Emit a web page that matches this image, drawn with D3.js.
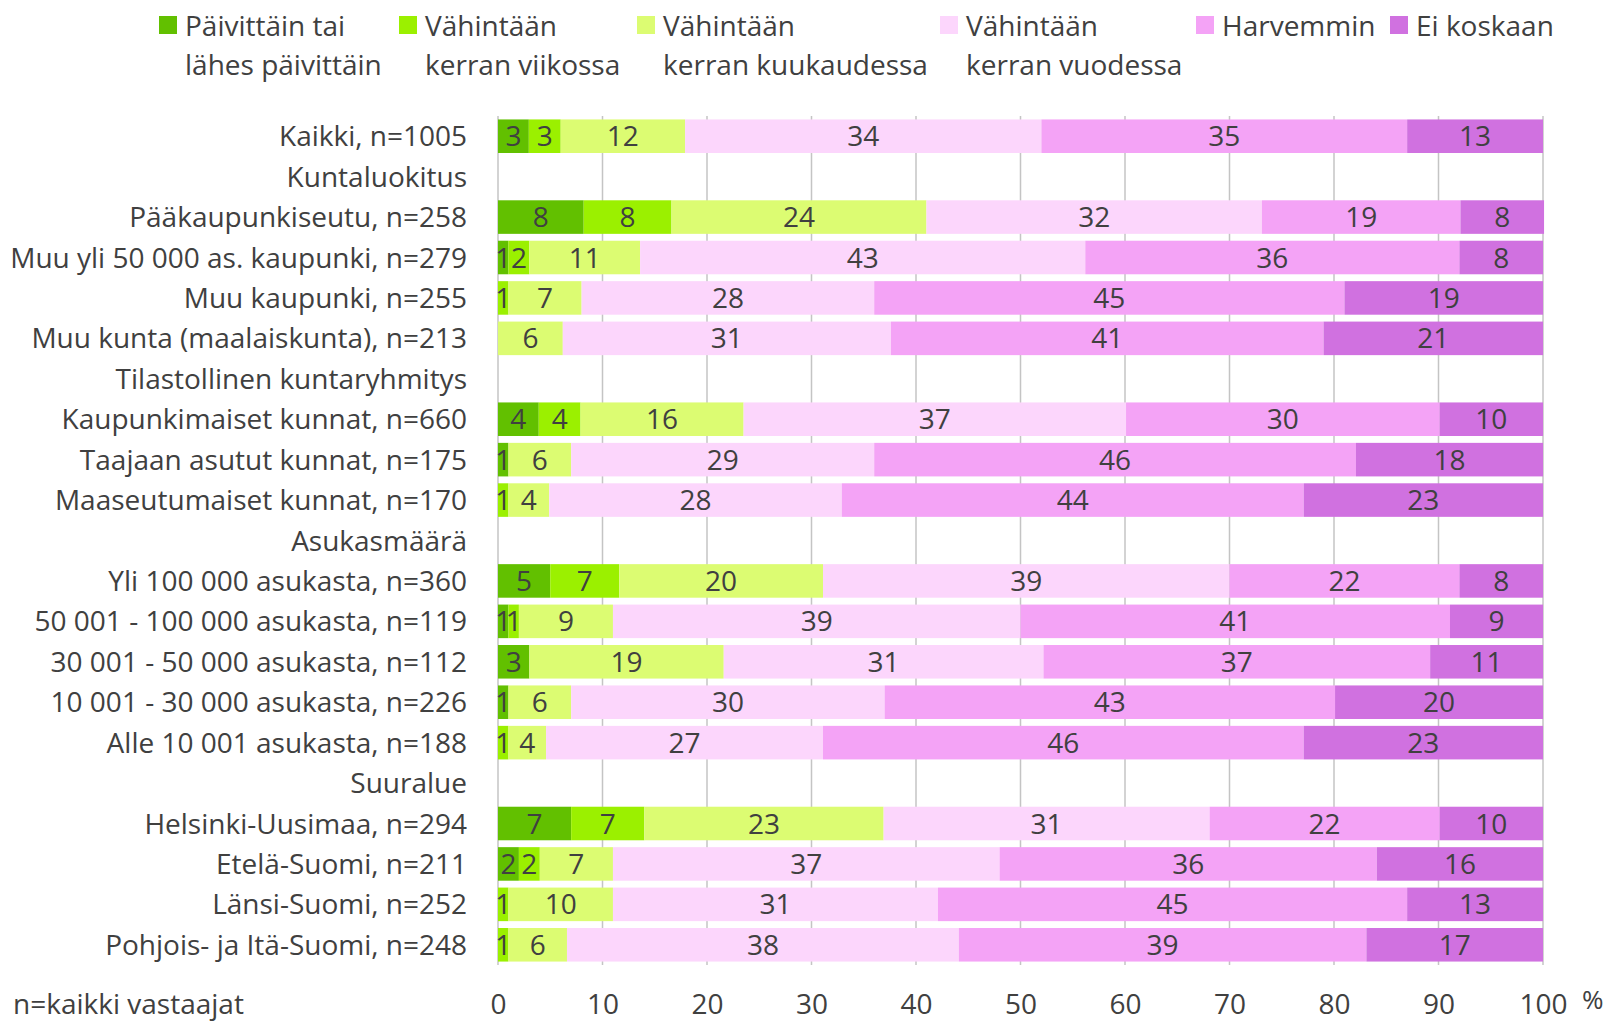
<!DOCTYPE html>
<html>
<head>
<meta charset="utf-8">
<script src="https://cdn.jsdelivr.net/npm/d3@7"></script>
<style>
	body { margin: 0; background: #fff; }
	svg text { font-family: 'Open Sans', 'Noto Sans', sans-serif; fill: #404040; }
</style>
</head>
<body>
<svg id="chart" width="1610" height="1022"></svg>
<script>
const categories = [
	'Kaikki, n=1005',
	'Kuntaluokitus',
	'Pääkaupunkiseutu, n=258',
	'Muu yli 50 000 as. kaupunki, n=279',
	'Muu kaupunki, n=255',
	'Muu kunta (maalaiskunta), n=213',
	'Tilastollinen kuntaryhmitys',
	'Kaupunkimaiset kunnat, n=660',
	'Taajaan asutut kunnat, n=175',
	'Maaseutumaiset kunnat, n=170',
	'Asukasmäärä',
	'Yli 100 000 asukasta, n=360',
	'50 001 - 100 000 asukasta, n=119',
	'30 001 - 50 000 asukasta, n=112',
	'10 001 - 30 000 asukasta, n=226',
	'Alle 10 001 asukasta, n=188',
	'Suuralue',
	'Helsinki-Uusimaa, n=294',
	'Etelä-Suomi, n=211',
	'Länsi-Suomi, n=252',
	'Pohjois- ja Itä-Suomi, n=248'
]

// null = group header row, no bar
const daily =   [2.95, null, 8.2, 1.0, 0, 0, null, 3.9, 1.0, 0, null, 5.0, 1.0, 3.0, 1.0, 0, null, 7.0, 2.0, 0, 0]
const weekly =  [3.05, null, 8.4, 2.0, 1.0, 0, null, 4.0, 0, 1.0, null, 6.6, 1.0, 0, 0, 1.0, null, 7.0, 2.0, 1.0, 1.0]
const monthly = [11.9, null, 24.4, 10.6, 7.0, 6.2, null, 15.6, 6.0, 3.9, null, 19.5, 9.0, 18.6, 6.0, 3.6, null, 22.9, 7.0, 10.0, 5.6]
const yearly =  [34.1, null, 32.1, 42.6, 28.0, 31.4, null, 36.6, 29.0, 28.0, null, 38.9, 39.0, 30.6, 30.0, 26.5, null, 31.2, 37.0, 31.1, 37.5]
const rarely =  [35.0, null, 19.0, 35.8, 45.0, 41.4, null, 30.0, 46.1, 44.2, null, 22.0, 41.1, 37.0, 43.1, 46.0, null, 22.0, 36.1, 44.9, 39.0]
const never =   [13.0, null, 8.0, 8.0, 19.0, 21.0, null, 9.9, 17.9, 22.9, null, 8.0, 8.9, 10.8, 19.9, 22.9, null, 9.9, 15.9, 13.0, 16.9]

const seriesNames = [
	['Päivittäin tai', 'lähes päivittäin'],
	['Vähintään', 'kerran viikossa'],
	['Vähintään', 'kerran kuukaudessa'],
	['Vähintään', 'kerran vuodessa'],
	['Harvemmin'],
	['Ei koskaan']
]
const seriesValues = [daily, weekly, monthly, yearly, rarely, never]
const colors = ['#62c000', '#9bf000', '#dcfc72', '#fcd6fc', '#f4a3f6', '#d071e0']
const ticks = [0, 10, 20, 30, 40, 50, 60, 70, 80, 90, 100]

const fontSize = 28
const keys = seriesValues.map((s, i) => 'k' + i)

const rows = categories.map((c, r) => {
	const row = { label: c, header: seriesValues[0][r] === null }
	keys.forEach((k, i) => { row[k] = seriesValues[i][r] || 0 })
	return row
})

const svg = d3.select('#chart')

const x = d3.scaleLinear()
	.domain([0, 100])
	.range([498, 1543])

const y = d3.scaleBand()
	.domain(categories)
	.range([116, 965])
	.paddingInner(0.17)
	.paddingOuter(0.085)

// grid
svg.append('g')
	.selectAll('line')
	.data(ticks)
	.join('line')
		.attr('x1', (d) => x(d))
		.attr('x2', (d) => x(d))
		.attr('y1', 116)
		.attr('y2', 965)
		.attr('stroke', '#c4c4c4')
		.attr('stroke-width', 1.5)

const stacked = d3.stack().keys(keys)(rows.filter((r) => !r.header))

const layers = svg.append('g')
	.selectAll('g')
	.data(stacked)
	.join('g')
		.attr('fill', (d, i) => colors[i])

layers.selectAll('rect')
	.data((d) => d)
	.join('rect')
		.attr('x', (d) => x(d[0]))
		.attr('y', (d) => y(d.data.label))
		.attr('width', (d) => x(d[1]) - x(d[0]))
		.attr('height', y.bandwidth())

// segment labels
svg.append('g')
	.selectAll('g')
	.data(stacked)
	.join('g')
	.selectAll('text')
	.data((d) => d.filter((s) => s[1] - s[0] >= 0.5))
	.join('text')
		.attr('x', (d) => x((d[0] + d[1]) / 2))
		.attr('y', (d) => y(d.data.label) + y.bandwidth() / 2)
		.attr('dy', '0.36em')
		.attr('text-anchor', 'middle')
		.attr('font-size', fontSize)
		.text((d) => Math.round(d[1] - d[0]))

// category labels
svg.append('g')
	.selectAll('text')
	.data(categories)
	.join('text')
		.attr('x', 467)
		.attr('y', (d) => y(d) + y.bandwidth() / 2)
		.attr('dy', '0.36em')
		.attr('text-anchor', 'end')
		.attr('font-size', fontSize)
		.text((d) => d)

// x axis
const axis = svg.append('g')
	.attr('transform', 'translate(0,1014)')
	.call(d3.axisBottom(x).tickValues(ticks).tickSize(0).tickPadding(0))
axis.select('.domain').remove()
axis.selectAll('text')
	.attr('font-size', fontSize)
	.attr('dy', 0)
	.attr('fill', '#404040')

svg.append('text')
	.attr('x', 1582)
	.attr('y', 1009)
	.attr('font-size', fontSize - 2)
	.text('%')

svg.append('text')
	.attr('x', 13)
	.attr('y', 1014)
	.attr('font-size', fontSize)
	.text('n=kaikki vastaajat')

// legend
const legendX = [159, 399, 637, 940, 1196, 1390]
const legend = svg.append('g')
	.selectAll('g')
	.data(seriesNames)
	.join('g')
		.attr('transform', (d, i) => `translate(${legendX[i]},0)`)

legend.append('rect')
	.attr('y', 16)
	.attr('width', 18)
	.attr('height', 18)
	.attr('fill', (d, i) => colors[i])

legend.selectAll('text')
	.data((d) => d)
	.join('text')
		.attr('x', 26)
		.attr('y', (d, i) => 36 + i * 39)
		.attr('font-size', fontSize)
		.text((d) => d)
</script>
</body>
</html>
